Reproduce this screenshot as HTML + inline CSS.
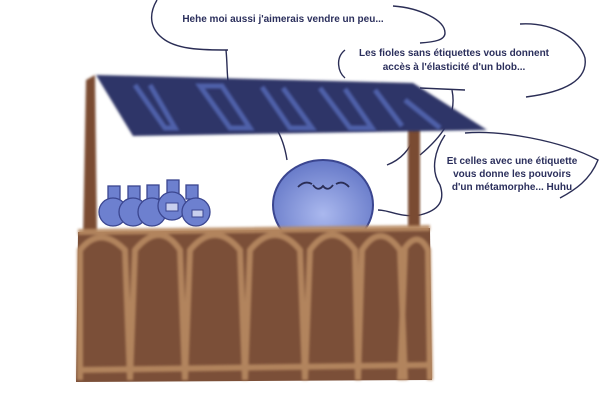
<!DOCTYPE html>
<html><head><style>
html,body{margin:0;padding:0;background:#fff;}
svg{display:block}
text{font-family:"Liberation Sans",sans-serif;font-weight:bold;font-size:10px;fill:#2b2f5c;}
</style></head><body>
<svg width="600" height="400" viewBox="0 0 600 400" xmlns="http://www.w3.org/2000/svg">
<defs><filter id="b"><feGaussianBlur stdDeviation="1.2"/></filter>
<radialGradient id="g" cx="0.5" cy="0.6" r="0.6"><stop offset="0" stop-color="#aab8ee"/><stop offset="1" stop-color="#6679c8"/></radialGradient></defs>
<!-- bubble lines -->
<g fill="none" stroke="#2a2d55" stroke-width="1.4">
<path d="M157,0 C148,15 150,30 165,40 C180,50 205,50 228,50"/>
<path d="M393,6 C420,8 445,20 445,33 C445,40 435,42 420,43"/>
<path d="M226,50 C228,70 226,85 232,92 C255,108 280,115 287,160"/>
<path d="M345,50 C335,58 338,72 345,78"/>
<path d="M520,24 C555,22 580,40 585,58 C588,80 565,92 526,97"/>
<path d="M420,88 L465,90 M452,90 C456,110 450,130 420,155"/>
<path d="M415,135 C410,150 400,160 387,165 M465,133 C500,130 560,140 598,160 C590,180 575,190 560,198 M445,135 C435,150 430,170 440,185 C445,200 440,210 420,215 C400,218 390,210 378,210"/>
</g>
<!-- left pole -->
<path d="M86,80 L95,75 L97,240 L83,240 Z" fill="#7a4c33" filter="url(#b)"/>
<!-- right pole -->
<rect x="408" y="128" width="12" height="100" fill="#7a4c33" filter="url(#b)"/>
<!-- roof -->
<path d="M96,75 L413,83 L487,130 L133,136 Z" fill="#2e3468" filter="url(#b)"/>
<g stroke="#5a6fc0" stroke-width="5" fill="none" opacity="0.75" filter="url(#b)">
<path d="M135,85 L165,128 L175,128 L150,85"/>
<path d="M200,86 L230,128 L250,128 L222,86 Z"/>
<path d="M262,87 L290,128 L312,128 L283,88"/>
<path d="M320,88 L350,128 L372,128 L345,89"/>
<path d="M375,90 L402,126 M405,100 L440,128"/>
</g>
<!-- blob -->
<ellipse cx="323" cy="205" rx="50" ry="45" fill="url(#g)" stroke="#3b4690" stroke-width="2"/>
<g fill="none" stroke="#2a2d55" stroke-width="1.8">
<path d="M298,187 Q305,180 312,184"/><path d="M336,184 Q343,180 349,187"/>
<path d="M313,185 Q318,192 323,186 Q328,192 333,185"/>
</g>
<!-- bottles -->
<g fill="#6d80cf" stroke="#3b4690" stroke-width="1.3">
<rect x="108" y="186" width="12" height="14"/><circle cx="113" cy="212" r="14"/>
<rect x="128" y="186" width="12" height="14"/><circle cx="133" cy="212" r="14"/>
<rect x="147" y="185" width="12" height="14"/><circle cx="152" cy="212" r="14"/>
<rect x="167" y="180" width="12" height="14"/><circle cx="172" cy="206" r="14"/>
<rect x="186" y="185" width="12" height="14"/><circle cx="196" cy="212" r="14"/>
</g>
<rect x="166" y="203" width="12" height="8" fill="#c8cfee" stroke="#3b4690"/>
<rect x="192" y="210" width="11" height="7" fill="#c8cfee" stroke="#3b4690"/>
<!-- counter -->
<path d="M78,232 L430,228 L432,380 L76,382 Z" fill="#7b4f38"/>
<g fill="none" stroke="#b88a62" stroke-width="6" opacity="0.9" filter="url(#b)">
<path d="M80,380 L80,250 Q100,225 125,250 L130,380"/>
<path d="M130,380 L135,250 Q160,220 180,250 L185,380"/>
<path d="M185,380 L190,250 Q215,220 240,250 L245,380"/>
<path d="M245,380 L250,250 Q275,220 300,250 L305,380"/>
<path d="M305,380 L310,250 Q332,220 355,250 L358,380"/>
<path d="M358,380 L362,250 Q380,222 400,250 L405,380"/>
<path d="M400,380 L405,248 Q418,230 428,250 L430,380"/>
<path d="M78,370 L430,365 M78,232 L430,228"/>
</g>
<!-- texts -->
<text x="283" y="22" text-anchor="middle">Hehe moi aussi j'aimerais vendre un peu...</text>
<text x="454" y="56" text-anchor="middle">Les fioles sans étiquettes vous donnent</text>
<text x="454" y="70" text-anchor="middle">accès à l'élasticité d'un blob...</text>
<text x="512" y="164" text-anchor="middle">Et celles avec une étiquette</text>
<text x="512" y="177" text-anchor="middle">vous donne les pouvoirs</text>
<text x="512" y="190" text-anchor="middle">d'un métamorphe... Huhu</text>
</svg>
</body></html>
